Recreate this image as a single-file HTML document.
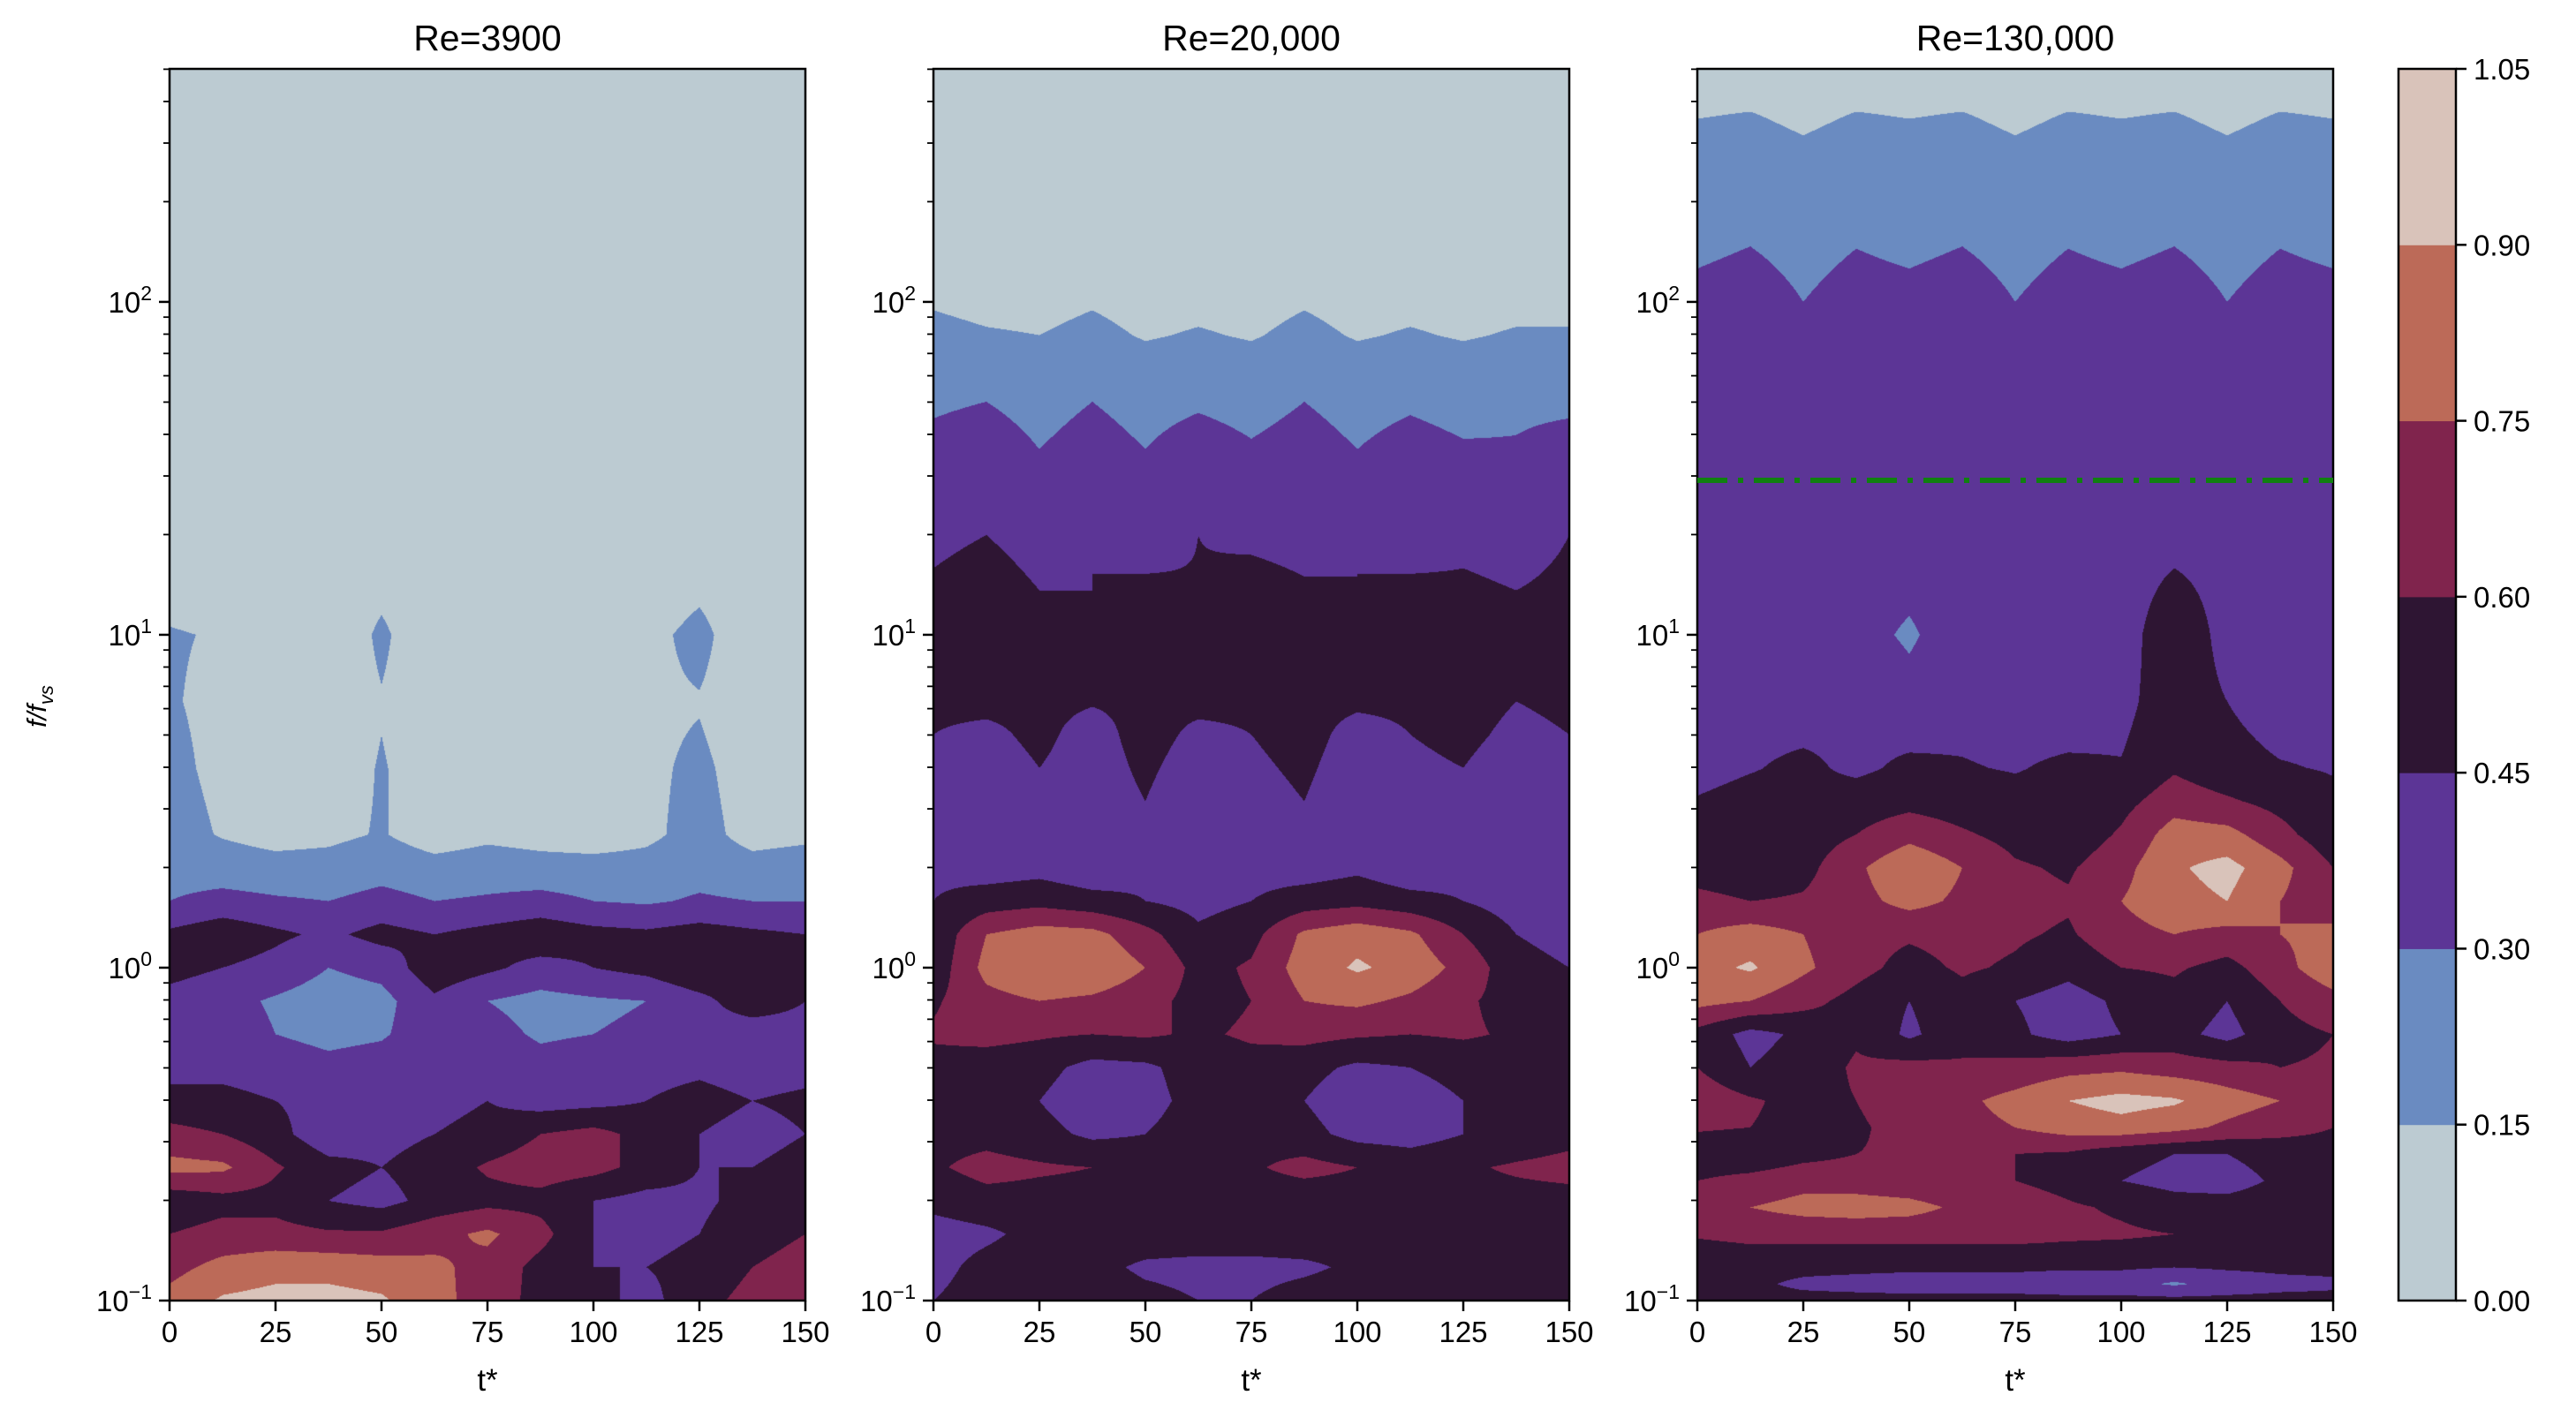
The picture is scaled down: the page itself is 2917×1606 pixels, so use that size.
<!DOCTYPE html>
<html><head><meta charset="utf-8">
<style>
html,body{margin:0;padding:0;background:#fff;}
#wrap{position:relative;width:2917px;height:1606px;overflow:hidden;font-family:"Liberation Sans",sans-serif;}
canvas{position:absolute;}
svg{position:absolute;left:0;top:0;}
</style></head>
<body>
<div id="wrap">
<canvas id="c0"></canvas>
<canvas id="c1"></canvas>
<canvas id="c2"></canvas>
<svg id="ov" width="2917" height="1606"></svg>
</div>
<script>
// ---- data ----
const levels = [0, 0.15, 0.30, 0.45, 0.60, 0.75, 0.90, 1.05];
const levelColors = ["#bccbd2","#6a8bc1","#5c3596","#2e1533","#80244d","#bc6a58","#d9c3ba"];
const tCols = [0,12.5,25,37.5,50,62.5,75,87.5,100,112.5,125,137.5,150];
const panelTitles = ["Re=3900","Re=20,000","Re=130,000"];
const xTicks = [0,25,50,75,100,125,150];
const cbTicks = ["0.00","0.15","0.30","0.45","0.60","0.75","0.90","1.05"];
const dashLineLogF = 1.464;

const logf1 = [-1,-0.9,-0.8,-0.7,-0.6,-0.5,-0.4,-0.3,-0.2,-0.1,0,0.1,0.2,0.3,0.4,0.6,0.8,1.0,1.2,1.5,2.0,2.7];
const vals1 = [
[80,92,95,95,92,80,68,55,50,40,55,65,70],
[70,80,85,85,82,78,70,55,45,45,50,60,65],
[60,65,65,62,62,70,78,65,45,40,45,55,60],
[50,55,55,45,40,50,55,55,45,40,42,50,58],
[80,78,62,50,45,52,62,68,65,55,45,45,50],
[65,60,50,35,40,45,50,60,65,55,45,40,45],
[50,48,45,40,35,40,45,38,40,45,50,45,48],
[40,42,40,35,38,45,40,35,38,40,42,38,40],
[35,38,30,25,28,40,35,28,30,32,38,35,38],
[40,35,28,22,25,42,30,25,28,30,40,55,45],
[50,45,40,30,35,55,48,40,45,50,60,50,45],
[48,55,48,42,50,45,50,55,50,48,52,48,45],
[30,35,32,30,35,30,32,35,30,28,32,30,30],
[24,22,20,20,24,20,22,20,20,20,24,20,22],
[20,14,10,12,16,8,12,10,8,12,20,10,12],
[18,12,8,8,16,8,12,8,8,12,18,8,8],
[16,12,5,5,14,5,12,5,5,12,14,5,5],
[16,14,5,2,18,2,12,2,2,10,20,2,2],
[8,6,2,2,8,2,4,2,2,2,8,2,2],
[0,0,0,0,0,0,0,0,0,0,0,0,0],
[0,0,0,0,0,0,0,0,0,0,0,0,0],
[0,0,0,0,0,0,0,0,0,0,0,0,0]];

const logf2 = [-1,-0.9,-0.8,-0.7,-0.6,-0.5,-0.4,-0.3,-0.2,-0.1,0,0.1,0.2,0.3,0.5,0.7,0.9,1.1,1.3,1.5,1.7,1.9,2.1,2.7];
const vals2 = [
[45,52,55,55,50,45,45,52,55,55,55,55,55],
[40,50,55,50,42,40,40,42,48,52,55,55,55],
[38,42,50,55,55,55,55,55,52,52,55,55,55],
[50,55,55,55,52,55,52,50,52,55,55,55,55],
[58,65,62,60,55,52,58,65,60,55,58,62,65],
[55,55,50,42,45,52,55,50,40,38,45,50,55],
[50,50,45,35,40,50,55,45,35,38,45,50,55],
[55,52,50,40,42,52,55,50,42,45,50,52,55],
[62,65,62,60,62,58,62,65,62,60,62,58,58],
[58,70,75,72,65,55,60,75,78,72,62,55,55],
[50,80,90,88,75,55,62,82,92,85,70,50,45],
[48,75,82,80,65,48,55,78,85,78,60,45,40],
[45,52,55,50,45,40,45,52,55,50,45,38,35],
[42,38,40,35,42,38,40,38,42,35,40,38,35],
[40,35,42,38,45,35,40,45,35,40,42,35,38],
[45,42,48,40,50,42,45,50,40,45,48,42,45],
[50,55,48,52,45,55,50,48,55,50,52,48,50],
[48,52,46,45,50,46,52,48,45,50,48,46,48],
[42,45,40,45,38,45,42,40,45,38,42,40,45],
[36,40,32,38,32,40,34,38,32,38,34,32,36],
[28,30,25,30,25,28,25,30,25,28,25,28,28],
[18,16,15,18,14,16,14,18,14,16,14,16,16],
[10,8,8,10,8,8,8,10,8,8,8,8,8],
[0,0,0,0,0,0,0,0,0,0,0,0,0]];

const logf3 = [-1,-0.95,-0.88,-0.8,-0.72,-0.64,-0.56,-0.48,-0.4,-0.3,-0.2,-0.1,0,0.1,0.2,0.3,0.4,0.5,0.6,0.8,1.0,1.2,1.4,1.6,1.8,2.0,2.2,2.4,2.55,2.7];
const vals3 = [
[50,50,50,50,50,50,50,50,50,50,50,50,50],
[50,48,42,40,38,38,38,35,35,28,35,40,42],
[50,52,52,52,52,52,52,52,52,52,52,52,52],
[62,65,65,65,65,65,65,63,62,60,58,58,58],
[68,75,80,82,80,72,68,62,58,52,52,55,55],
[60,65,70,68,65,62,60,55,45,40,38,48,55],
[50,48,55,60,62,62,60,58,50,45,45,52,55],
[62,60,55,58,65,70,75,82,85,80,72,65,60],
[70,62,55,60,68,72,80,90,95,92,82,75,72],
[60,45,52,62,65,62,65,70,72,68,65,60,62],
[55,40,48,58,42,55,48,38,45,50,40,55,60],
[80,75,65,55,45,55,45,38,48,55,45,60,70],
[85,92,78,65,55,62,58,50,60,62,55,70,85],
[75,82,75,65,62,65,62,58,70,75,70,75,80],
[65,60,62,70,80,72,65,62,75,85,90,75,65],
[52,48,55,72,88,75,62,58,70,88,95,80,60],
[48,52,52,60,70,62,55,50,62,82,80,65,50],
[46,50,48,52,55,52,50,48,55,68,62,55,48],
[40,44,48,42,48,46,44,48,46,58,50,46,44],
[35,40,38,42,35,40,38,35,40,55,45,38,40],
[32,38,30,35,28,38,32,30,35,60,38,32,35],
[35,40,32,38,35,40,35,38,35,45,38,35,38],
[38,42,38,40,42,38,40,42,38,40,42,38,40],
[40,43,40,42,40,43,40,42,40,43,40,42,40],
[38,40,36,40,38,40,36,40,38,40,36,40,38],
[33,35,30,34,33,35,30,34,33,35,30,34,33],
[27,29,26,29,27,29,26,29,27,29,26,29,27],
[20,22,19,22,20,22,19,22,20,22,19,22,20],
[15,16,13,16,15,16,13,16,15,16,13,16,15],
[9,9,9,9,9,9,9,9,9,9,9,9,9]];

// ---- layout ----
const PX = [192,1057,1922], PW = 720, PT = 78, PB = 1473, PH = PB-PT;
const LMIN = -1, LMAX = 2.7;
const CBX = 2716, CBW = 65;
function xScale(p,t){return PX[p] + t/150*PW;}
function yScale(lf){return PB - (lf-LMIN)/(LMAX-LMIN)*PH;}
function hexRGB(h){return [parseInt(h.slice(1,3),16),parseInt(h.slice(3,5),16),parseInt(h.slice(5,7),16)];}
const rgbs = levelColors.map(hexRGB);

function interp(lf, t, logf, vals){
  let i=0; while(i<logf.length-2 && lf>logf[i+1]) i++;
  let fy=(lf-logf[i])/(logf[i+1]-logf[i]); fy=Math.max(0,Math.min(1,fy));
  let j=Math.min(Math.floor(t/12.5), tCols.length-2);
  let fx=(t-tCols[j])/12.5; fx=Math.max(0,Math.min(1,fx));
  const a=vals[i][j],b=vals[i][j+1],c=vals[i+1][j],d=vals[i+1][j+1];
  return ((a*(1-fx)+b*fx)*(1-fy)+(c*(1-fx)+d*fx)*fy)/100;
}
const sets=[[logf1,vals1],[logf2,vals2],[logf3,vals3]];
sets.forEach((s,p)=>{
  const cv=document.getElementById('c'+p);
  cv.width=PW; cv.height=PH; cv.style.left=PX[p]+'px'; cv.style.top=PT+'px';
  const ctx=cv.getContext('2d'); const img=ctx.createImageData(PW,PH);
  for(let y=0;y<PH;y++){
    const lf=LMAX-(y+0.5)/PH*(LMAX-LMIN);
    for(let x=0;x<PW;x++){
      const t=(x+0.5)/PW*150;
      const v=interp(lf,t,s[0],s[1]);
      let k=0; while(k<6 && v>=levels[k+1]) k++;
      const c=rgbs[k], o=(y*PW+x)*4;
      img.data[o]=c[0];img.data[o+1]=c[1];img.data[o+2]=c[2];img.data[o+3]=255;
    }
  }
  ctx.putImageData(img,0,0);
});

// ---- overlay ----
const NS="http://www.w3.org/2000/svg", ov=document.getElementById('ov');
function mk(tag,attrs,txt){const e=document.createElementNS(NS,tag);for(const k in attrs)e.setAttribute(k,attrs[k]);if(txt!==undefined)e.textContent=txt;ov.appendChild(e);return e;}
for(let p=0;p<3;p++){
  const fr=mk('rect',{x:PX[p],y:PT,width:PW,height:PH,fill:'none',stroke:'#000','stroke-width':2.5});
  
  
  const ti=mk('text',{x:PX[p]+PW/2,y:57,'font-size':41,'text-anchor':'middle'},panelTitles[p]);
  
  
  xTicks.forEach(t=>{
    const x=xScale(p,t);
    mk('line',{x1:x,x2:x,y1:PB,y2:PB+12,stroke:'#000','stroke-width':2.5});
    const tl=mk('text',{x:x,y:PB+47,'font-size':33,'text-anchor':'middle'},String(t));
    
    
  });
  const xl=mk('text',{x:PX[p]+PW/2,y:1575,'font-size':35,'text-anchor':'middle'},'t*');
  
  
  for(let d=-1;d<=2;d++){
    const y=yScale(d);
    mk('line',{x1:PX[p]-12,x2:PX[p],y1:y,y2:y,stroke:'#000','stroke-width':2.5});
    const yl=mk('text',{x:PX[p]-20,y:y+12,'font-size':33,'text-anchor':'end'});
    
    
    const t1=document.createElementNS(NS,'tspan');t1.textContent='10';yl.appendChild(t1);
    const t2=document.createElementNS(NS,'tspan');t2.setAttribute('dy','-14');t2.setAttribute('font-size','23');t2.textContent=d<0?'\u22121':String(d);yl.appendChild(t2);
    for(let m=2;m<=9;m++){
      const lf=d+Math.log10(m); if(lf>LMAX) break;
      const ym=yScale(lf);
      mk('line',{x1:PX[p]-7,x2:PX[p],y1:ym,y2:ym,stroke:'#000','stroke-width':1.8});
    }
  }
}
const dl=mk('line',{x1:PX[2],x2:PX[2]+PW,y1:yScale(dashLineLogF),y2:yScale(dashLineLogF),stroke:'#108010','stroke-width':6,'stroke-dasharray':'34,12,6,12'});


const ylab=mk('text',{x:0,y:0,'font-size':31,'font-style':'italic','text-anchor':'middle',transform:'translate(52,800) rotate(-90)'});


ylab.innerHTML='f/f<tspan dy="8" font-size="22">vs</tspan>';
// colorbar
for(let k=0;k<7;k++){
  const y1=PB-(levels[k+1]/1.05)*PH, y0=PB-(levels[k]/1.05)*PH;
  const r=mk('rect',{x:CBX,y:y1,width:CBW,height:y0-y1+0.5,fill:levelColors[k]});
  
  
}
mk('rect',{x:CBX,y:PT,width:CBW,height:PH,fill:'none',stroke:'#000','stroke-width':2.5});
cbTicks.forEach((s,k)=>{
  const y=PB-(levels[k]/1.05)*PH;
  mk('line',{x1:CBX+CBW,x2:CBX+CBW+12,y1:y,y2:y,stroke:'#000','stroke-width':2.5});
  const cl=mk('text',{x:CBX+CBW+20,y:y+12,'font-size':33},s);
  
  
});
</script>
</body></html>
